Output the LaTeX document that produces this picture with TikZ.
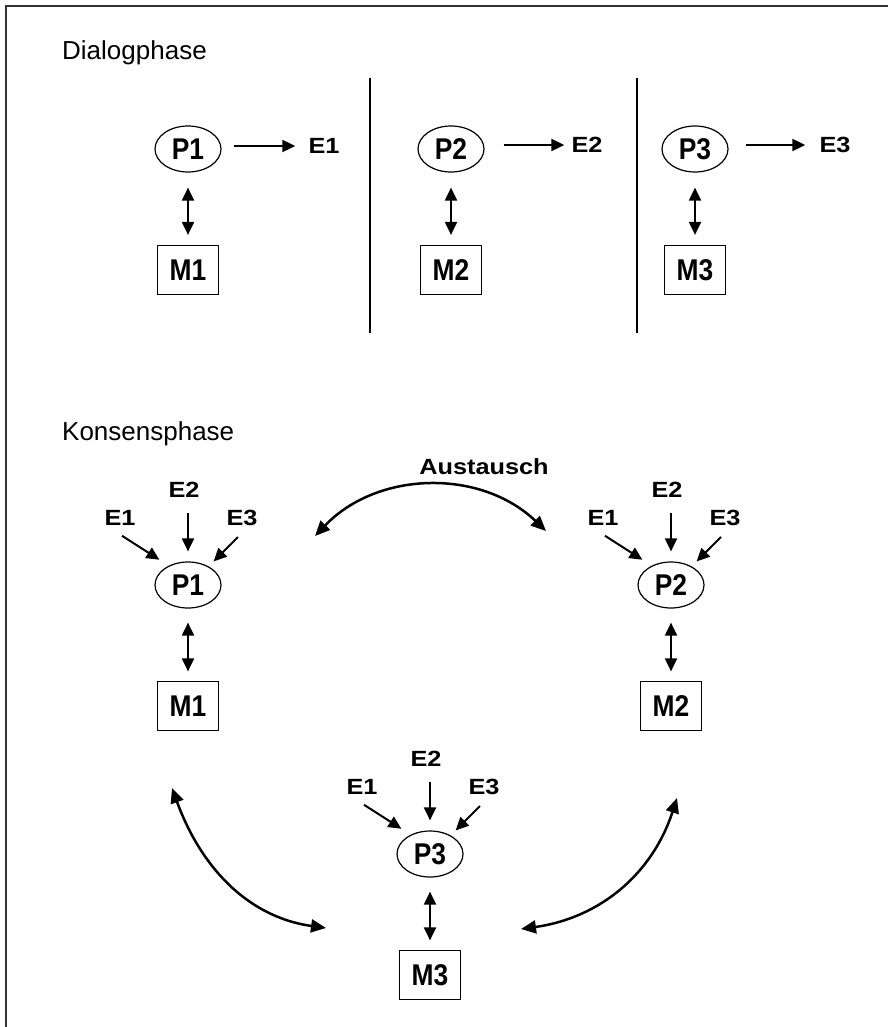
\documentclass[tikz,border=0pt]{standalone}
\usepackage{fontspec}
\usepackage{graphicx}
\setmainfont{Liberation Sans}
\usetikzlibrary{arrows.meta,shapes.geometric}

% condensed bold for process/memory names, widened bold for result labels
\newcommand{\narrowtxt}[1]{\scalebox{0.88}[1]{#1}}
\newcommand{\widetxt}[1]{\scalebox{1.15}[1]{#1}}

\begin{document}
\begin{tikzpicture}[x=1pt,y=1pt,
  frame/.style={line width=2pt, draw=black!80},
  divider/.style={line width=1.5pt},
  proc/.style={ellipse, draw, line width=1.2pt, minimum width=66pt,
    minimum height=46pt, inner sep=0pt, font=\fontsize{30}{30}\selectfont\bfseries},
  mem/.style={rectangle, draw, line width=1.2pt, minimum width=61pt,
    minimum height=49pt, inner sep=0pt, font=\fontsize{30}{30}\selectfont\bfseries},
  elab/.style={inner sep=0pt, font=\fontsize{22}{22}\selectfont\bfseries},
  title/.style={inner sep=0pt, anchor=base west, font=\fontsize{26}{26}\selectfont},
  arr/.style={line width=2pt, -{Triangle[length=13pt,width=12pt]}},
  darr/.style={line width=2pt,
    {Triangle[length=13pt,width=12pt]}-{Triangle[length=13pt,width=12pt]}},
  swing/.style={line width=2.5pt,
    {Triangle[length=15pt,width=13pt]}-{Triangle[length=15pt,width=13pt]}},
]
\useasboundingbox (0,0) rectangle (888,-1027);

% open frame: top and left edges
\draw[frame] (6,-1027) -- (6,-6) -- (888,-6);

% ---------- Dialogphase ----------
\node[title] (tDialog) at (62,-60) {Dialogphase};

\draw[divider] (370,-78) -- (370,-333);
\draw[divider] (637,-78) -- (637,-333);

\node[proc] (dP1) at (188,-149) {\narrowtxt{P1}};
\node[elab] (dE1) at (324,-146) {\widetxt{E1}};
\node[mem]  (dM1) at (188,-270) {\narrowtxt{M1}};
\draw[arr, shorten <=12pt, shorten >=13pt] (dP1.east |- dE1) -- (dE1.west);
\draw[darr, shorten <=15pt, shorten >=10pt] (dP1.south) -- (dM1.north);

\node[proc] (dP2) at (451,-149) {\narrowtxt{P2}};
\node[elab] (dE2) at (587,-145) {\widetxt{E2}};
\node[mem]  (dM2) at (451,-270) {\narrowtxt{M2}};
\draw[arr, shorten <=19pt, shorten >=7pt] (dP2.east |- dE2) -- (dE2.west);
\draw[darr, shorten <=15pt, shorten >=10pt] (dP2.south) -- (dM2.north);

\node[proc] (dP3) at (695,-149) {\narrowtxt{P3}};
\node[elab] (dE3) at (835,-145) {\widetxt{E3}};
\node[mem]  (dM3) at (695,-270) {\narrowtxt{M3}};
\draw[arr, shorten <=17pt, shorten >=14pt] (dP3.east |- dE3) -- (dE3.west);
\draw[darr, shorten <=15pt, shorten >=10pt] (dP3.south) -- (dM3.north);

% ---------- Konsensphase ----------
\node[title] (tKonsens) at (62,-440) {Konsensphase};

\foreach \k/\cx/\cy in {1/188/585, 2/671/585, 3/430/854} {
  \begin{scope}[shift={(\cx,-\cy)}]
    \node[proc] (kP\k) at (0,0) {\narrowtxt{P\k}};
    \node[elab] (kA\k) at (-68,67) {\widetxt{E1}};
    \node[elab] (kB\k) at (-4,95.5) {\widetxt{E2}};
    \node[elab] (kC\k) at (54,67) {\widetxt{E3}};
    \node[mem]  (kM\k) at (0,-121) {\narrowtxt{M\k}};
    \draw[arr, shorten >=11pt] ([xshift=2pt,yshift=-10pt]kA\k.south) -- (kP\k.135);
    \draw[arr, shorten <=15.5pt, shorten >=10pt] (kP\k.north |- kB\k.south) -- (kP\k.north);
    \draw[arr, shorten >=7pt] ([xshift=-4pt,yshift=-11pt]kC\k.south) -- (kP\k.42);
    \draw[darr, shorten <=14pt, shorten >=9.5pt] (kP\k.south) -- (kM\k.north);
  \end{scope}
}

% exchange arcs between the three groups
\node[elab] (tAustausch) at (484,-467) {\widetxt{Austausch}};
\coordinate (xa) at (315,-536);
\coordinate (xb) at (546,-531);
\draw[swing] (xa) to[bend left=45] (xb);

\coordinate (ya) at (172,-788);
\coordinate (yb) at (326,-928);
\draw[swing] (ya) to[out=-70,in=172] (yb);

\coordinate (za) at (521,-929);
\coordinate (zb) at (677,-798);
\draw[swing] (za) to[out=8,in=-108] (zb);
\end{tikzpicture}
\end{document}
